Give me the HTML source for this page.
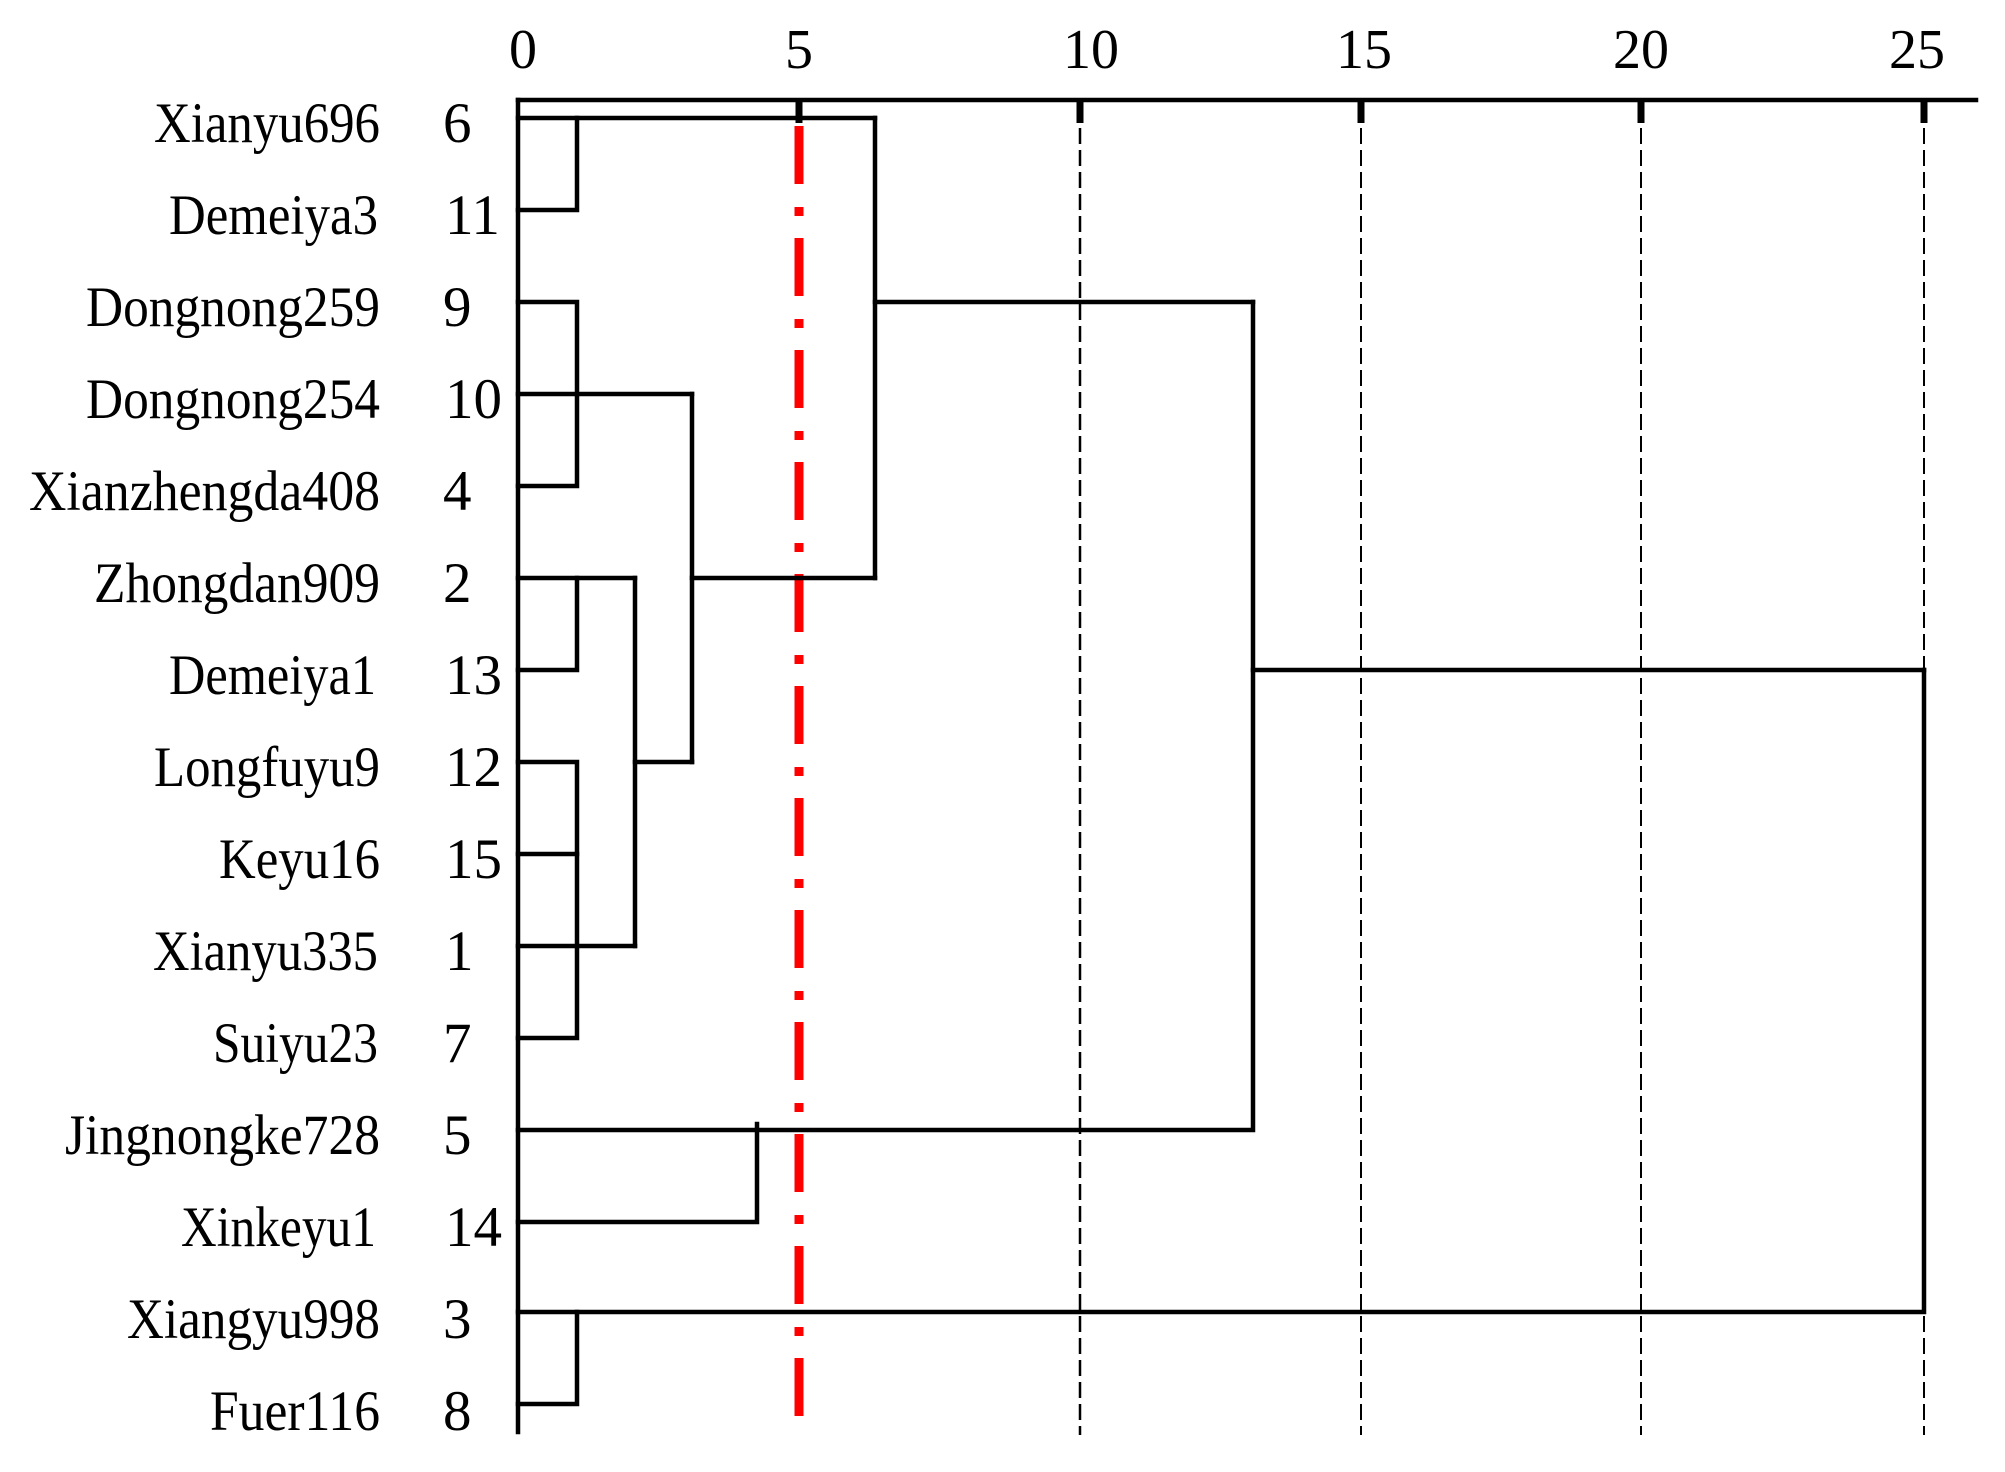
<!DOCTYPE html>
<html><head><meta charset="utf-8"><style>html,body{margin:0;padding:0;background:#fff}svg{display:block}</style></head>
<body>
<svg width="2005" height="1472" viewBox="0 0 2005 1472" xmlns="http://www.w3.org/2000/svg" font-family="'Liberation Serif', serif">
<rect width="2005" height="1472" fill="#fff"/>
<g stroke="#000" stroke-width="2" stroke-dasharray="16,6" fill="none">
<line x1="1080" y1="128" x2="1080" y2="1435" stroke-width="2.5"/>
<line x1="1361" y1="128" x2="1361" y2="1435"/>
<line x1="1641" y1="128" x2="1641" y2="1435"/>
<line x1="1924" y1="128" x2="1924" y2="1435"/>
</g>
<line x1="799" y1="126" x2="799" y2="1436" stroke="#f00" stroke-width="9" stroke-dasharray="58,23,9,22"/>
<g stroke="#000" stroke-width="4.5" fill="none" stroke-linecap="square">
<line x1="518" y1="100" x2="1976" y2="100"/>
<line x1="518" y1="100" x2="518" y2="1432"/>
<line x1="799" y1="100" x2="799" y2="123" stroke-width="7" stroke-linecap="butt"/>
<line x1="1080" y1="100" x2="1080" y2="123" stroke-width="7" stroke-linecap="butt"/>
<line x1="1361" y1="100" x2="1361" y2="123" stroke-width="7" stroke-linecap="butt"/>
<line x1="1641" y1="100" x2="1641" y2="123" stroke-width="7" stroke-linecap="butt"/>
<line x1="1924" y1="100" x2="1924" y2="123" stroke-width="7" stroke-linecap="butt"/>
<polyline points="518,118 875,118"/>
<polyline points="518,210 577,210 577,118"/>
<polyline points="518,302 577,302 577,486 518,486"/>
<polyline points="518,394 692,394"/>
<polyline points="518,578 635,578"/>
<polyline points="577,578 577,670 518,670"/>
<polyline points="518,762 577,762 577,1038 518,1038"/>
<line x1="518" y1="854" x2="577" y2="854"/>
<polyline points="518,946 635,946"/>
<polyline points="635,578 635,946"/>
<line x1="635" y1="762" x2="692" y2="762"/>
<polyline points="692,394 692,762"/>
<line x1="692" y1="578" x2="875" y2="578"/>
<polyline points="875,118 875,578"/>
<line x1="875" y1="302" x2="1253" y2="302"/>
<polyline points="1253,302 1253,1130 518,1130"/>
<polyline points="757,1124 757,1222 518,1222"/>
<line x1="1253" y1="670" x2="1924" y2="670"/>
<polyline points="1924,670 1924,1312 518,1312"/>
<polyline points="577,1312 577,1404 518,1404"/>
</g>
<g font-size="56" fill="#000" text-anchor="middle">
<text x="523" y="68">0</text>
<text x="799" y="68">5</text>
<text x="1091" y="68">10</text>
<text x="1364" y="68">15</text>
<text x="1641" y="68">20</text>
<text x="1917" y="68">25</text>
</g>
<g font-size="57" fill="#000" text-anchor="end">
<text x="380" y="142" textLength="226" lengthAdjust="spacingAndGlyphs">Xianyu696</text>
<text x="378" y="234" textLength="209" lengthAdjust="spacingAndGlyphs">Demeiya3</text>
<text x="380" y="326" textLength="294" lengthAdjust="spacingAndGlyphs">Dongnong259</text>
<text x="380" y="418" textLength="294" lengthAdjust="spacingAndGlyphs">Dongnong254</text>
<text x="380" y="510" textLength="351" lengthAdjust="spacingAndGlyphs">Xianzhengda408</text>
<text x="380" y="602" textLength="286" lengthAdjust="spacingAndGlyphs">Zhongdan909</text>
<text x="376" y="694" textLength="207" lengthAdjust="spacingAndGlyphs">Demeiya1</text>
<text x="380" y="786" textLength="226" lengthAdjust="spacingAndGlyphs">Longfuyu9</text>
<text x="380" y="878" textLength="161" lengthAdjust="spacingAndGlyphs">Keyu16</text>
<text x="378" y="970" textLength="225" lengthAdjust="spacingAndGlyphs">Xianyu335</text>
<text x="378" y="1062" textLength="165" lengthAdjust="spacingAndGlyphs">Suiyu23</text>
<text x="380" y="1154" textLength="315" lengthAdjust="spacingAndGlyphs">Jingnongke728</text>
<text x="376" y="1246" textLength="195" lengthAdjust="spacingAndGlyphs">Xinkeyu1</text>
<text x="380" y="1338" textLength="253" lengthAdjust="spacingAndGlyphs">Xiangyu998</text>
<text x="380" y="1430" textLength="170" lengthAdjust="spacingAndGlyphs">Fuer116</text>
</g>
<g font-size="57" fill="#000">
<text x="443" y="142">6</text>
<text x="445" y="234">11</text>
<text x="443" y="326">9</text>
<text x="445" y="418">10</text>
<text x="443" y="510">4</text>
<text x="443" y="602">2</text>
<text x="445" y="694">13</text>
<text x="445" y="786">12</text>
<text x="445" y="878">15</text>
<text x="445" y="970">1</text>
<text x="443" y="1062">7</text>
<text x="443" y="1154">5</text>
<text x="445" y="1246">14</text>
<text x="443" y="1338">3</text>
<text x="443" y="1430">8</text>
</g>
</svg>
</body></html>
